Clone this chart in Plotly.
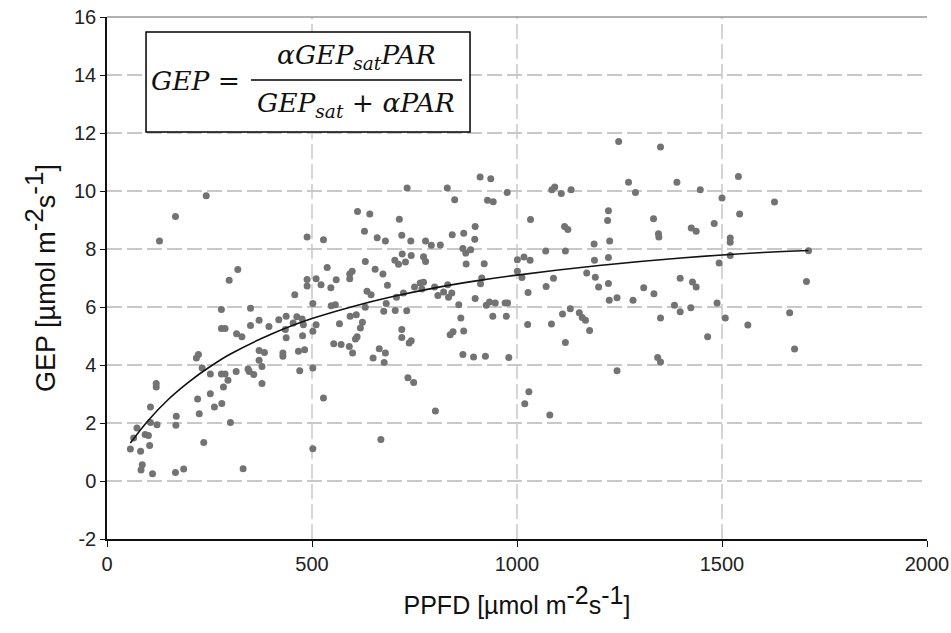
import plotly.graph_objects as go

# Observed data: PPFD (x) and GEP (y)
ppfd = [242,167,128,488,319,298,488,488,458,279,350,
        279,288,316,329,350,371,395,419,437,435,437,454,463,476,479,477,467,482,470,371,384,429,429,371,378,344,347,358,378,315,279,288,252,295,284,232,218,223,252,221,225,262,280,301,236,332,120,120,106,106,122,73,93,101,65,104,57,82,86,83,111,169,168,167,187,
        732,830,910,936,976,848,928,942,611,641,713,628,528,659,679,719,741,777,791,813,842,870,898,897,868,875,887,876,920,914,911,720,702,711,728,742,772,777,630,537,654,673,598,592,592,510,522,559,546,684,750,764,772,768,799,831,821,833,841,807,634,644,723,706,898,858,925,933,947,971,502,547,557,630,681,675,703,731,593,608,863,941,974,
        510,502,502,567,623,618,610,606,553,571,591,599,649,664,679,676,719,719,737,742,837,844,870,868,894,923,980,734,748,528,801,668,502,
        1248,1350,1272,1390,1289,1447,1085,1092,1108,1132,1033,1116,1124,1223,1221,1226,1333,1345,1346,1425,1437,1070,1118,1188,1001,1017,1032,1189,1223,1001,1012,1170,1191,1089,1071,1027,1199,1223,1225,1244,1283,1309,1334,1398,1428,1437,1384,1398,1424,977,1111,1130,1152,1159,1350,
        1026,1084,1167,1177,1118,1244,1343,1350,1465,1029,1019,1080,
        1540,1500,1628,1543,1481,1520,1520,1711,1520,1493,1706,1488,1665,1508,
        1563,1677]
gep = [9.84,9.12,8.28,8.41,7.29,6.92,6.95,6.72,6.42,5.91,5.96,
       5.26,5.26,5.08,4.97,5.36,5.54,5.33,5.56,5.68,5.22,4.94,5.45,5.66,5.59,5.39,5.01,4.47,4.53,3.80,4.50,4.43,4.41,4.30,4.16,3.95,3.86,3.78,3.67,3.36,3.78,3.69,3.69,3.69,3.47,3.24,3.90,4.24,4.36,3.01,2.83,2.32,2.55,2.67,2.02,1.33,0.42,3.36,3.24,2.55,2.02,1.94,1.83,1.60,1.57,1.48,1.22,1.10,1.03,0.56,0.38,0.25,2.23,1.92,0.29,0.41,
       10.10,10.10,10.48,10.42,9.95,9.70,9.68,9.63,9.29,9.21,9.03,8.61,8.32,8.39,8.28,8.47,8.28,8.28,8.13,8.14,8.49,8.54,8.78,8.34,8.02,7.86,7.97,7.48,7.49,7.00,6.80,7.83,7.61,7.47,7.55,7.78,7.73,7.57,7.57,7.36,7.30,7.14,7.23,7.14,6.97,6.97,6.77,6.94,6.66,6.75,6.69,6.83,6.85,6.62,6.69,6.77,6.52,6.34,6.48,6.40,6.54,6.42,6.48,6.34,6.29,6.08,6.06,6.17,6.14,6.14,6.12,6.04,6.08,5.99,6.12,5.85,5.88,5.87,5.68,5.73,5.62,5.68,5.68,
       5.39,5.16,3.90,5.42,5.47,5.28,4.97,4.90,4.73,4.71,4.64,4.41,4.24,4.56,4.41,4.09,5.22,4.95,4.76,4.84,5.04,5.15,5.17,4.36,4.28,4.30,4.26,3.56,3.40,2.86,2.41,1.43,1.11,
       11.71,11.52,10.30,10.30,9.95,10.04,10.04,10.14,9.91,10.04,9.02,8.78,8.67,9.32,8.98,8.28,9.04,8.53,8.41,8.72,8.61,7.93,7.93,8.17,7.63,7.72,7.61,7.61,7.71,7.23,7.02,7.17,7.03,6.99,6.71,6.50,6.69,6.81,6.23,6.32,6.23,6.66,6.46,6.99,6.86,6.69,6.06,5.84,5.97,6.14,5.76,5.94,5.80,5.64,5.62,
       5.40,5.41,5.54,5.19,4.78,3.80,4.26,4.10,4.97,3.08,2.66,2.28,
       10.50,9.76,9.62,9.21,8.88,8.38,8.23,7.94,7.78,7.52,6.88,6.14,5.80,5.62,
       5.38,4.55]

# Fitted light-response curve
fit_ppfd = [57, 100, 150, 200, 250, 300, 400, 500, 600, 700, 800, 900, 1000, 1200, 1400, 1600, 1711]
fit_gep = [1.31, 2.08, 2.82, 3.42, 3.93, 4.37, 5.06, 5.60, 6.02, 6.37, 6.66, 6.90, 7.10, 7.43, 7.69, 7.88, 7.95]

x_ticks = [0, 500, 1000, 1500, 2000]
x_grid = [500, 1000, 1500]
y_ticks = [-2, 0, 2, 4, 6, 8, 10, 12, 14, 16]

fig = go.Figure()
fig.add_trace(go.Scatter(x=ppfd, y=gep, mode="markers",
                         marker=dict(size=7, color="#737373"),
                         showlegend=False, hoverinfo="x+y"))
fig.add_trace(go.Scatter(x=fit_ppfd, y=fit_gep, mode="lines",
                         line=dict(color="#111111", width=1.6, shape="spline"),
                         showlegend=False))

grid_col = "#c8c8c8"
sans = "Liberation Sans, Arial"


def unit(sz):
    s = "<span style='font-size:%dpx'>" % sz
    return "[µmol m<sup>" + s + "-2</span></sup>s<sup>" + s + "-1</span></sup>]"


fig.update_xaxes(range=[0, 2000], tickvals=x_ticks, ticktext=[str(v) for v in x_ticks],
                 showgrid=False, automargin=False, ticklabeloverflow="allow",
                 zeroline=False, showline=True, linecolor="#111111", linewidth=1.5,
                 ticks="outside", ticklen=6, tickcolor="#111111", tickwidth=1.2,
                 tickfont=dict(family=sans, size=20, color="#222222"),
                 title=dict(text="PPFD " + unit(25),
                            font=dict(family=sans, size=25, color="#111111"),
                            standoff=23))
fig.update_yaxes(range=[-2, 16], tickvals=y_ticks, ticktext=[str(v) for v in y_ticks],
                 showgrid=True, gridcolor=grid_col, gridwidth=1.5, griddash="15px,5px",
                 zeroline=False, showline=True, linecolor="#111111", linewidth=1.5,
                 ticks="outside", ticklen=5, tickcolor="#111111", tickwidth=1.2,
                 automargin=False, ticklabeloverflow="allow",
                 tickfont=dict(family=sans, size=20, color="#222222"),
                 title=dict(text="GEP " + unit(26),
                            font=dict(family=sans, size=27, color="#111111"),
                            standoff=11))

# vertical dashed gridlines
for gx in x_grid:
    fig.add_shape(type="line", xref="x", yref="paper", x0=gx, x1=gx, y0=0, y1=1,
                  line=dict(color=grid_col, width=1.5, dash="15px,5px"), layer="below")

# top border line
fig.add_shape(type="line", xref="paper", yref="paper", x0=0, x1=1, y0=1, y1=1,
              line=dict(color="#999999", width=1.5))

# equation box
fig.add_shape(type="rect", xref="paper", yref="paper", x0=0.0476, x1=0.4427, y0=0.7797, y1=0.9713,
              line=dict(color="#000000", width=1.5), fillcolor="white", layer="above")
fig.add_shape(type="line", xref="paper", yref="paper", x0=0.1756, x1=0.4329, y0=0.8793, y1=0.8793,
              line=dict(color="#000000", width=1.6), layer="above")
serif = dict(family="DejaVu Serif, Liberation Serif, serif", size=26.5, color="#111111")
fig.add_annotation(xref="paper", yref="paper", x=0.051, y=0.879, xanchor="left", yanchor="middle",
                   text="<i>GEP</i> =", showarrow=False, font=serif)
fig.add_annotation(xref="paper", yref="paper", x=0.304, y=0.925, xanchor="center", yanchor="middle",
                   text="<i>αGEP<sub>sat</sub>PAR</i>", showarrow=False, font=serif)
fig.add_annotation(xref="paper", yref="paper", x=0.304, y=0.832, xanchor="center", yanchor="middle",
                   text="<i>GEP<sub>sat</sub></i> + <i>αPAR</i>", showarrow=False, font=serif)

fig.update_layout(width=951, height=633, margin=dict(l=107, r=24, t=17, b=94),
                  plot_bgcolor="white", paper_bgcolor="white")

fig.write_html("out.html", config={"displayModeBar": False},
               post_script="document.body.style.margin='0';document.body.style.overflow='hidden';")
